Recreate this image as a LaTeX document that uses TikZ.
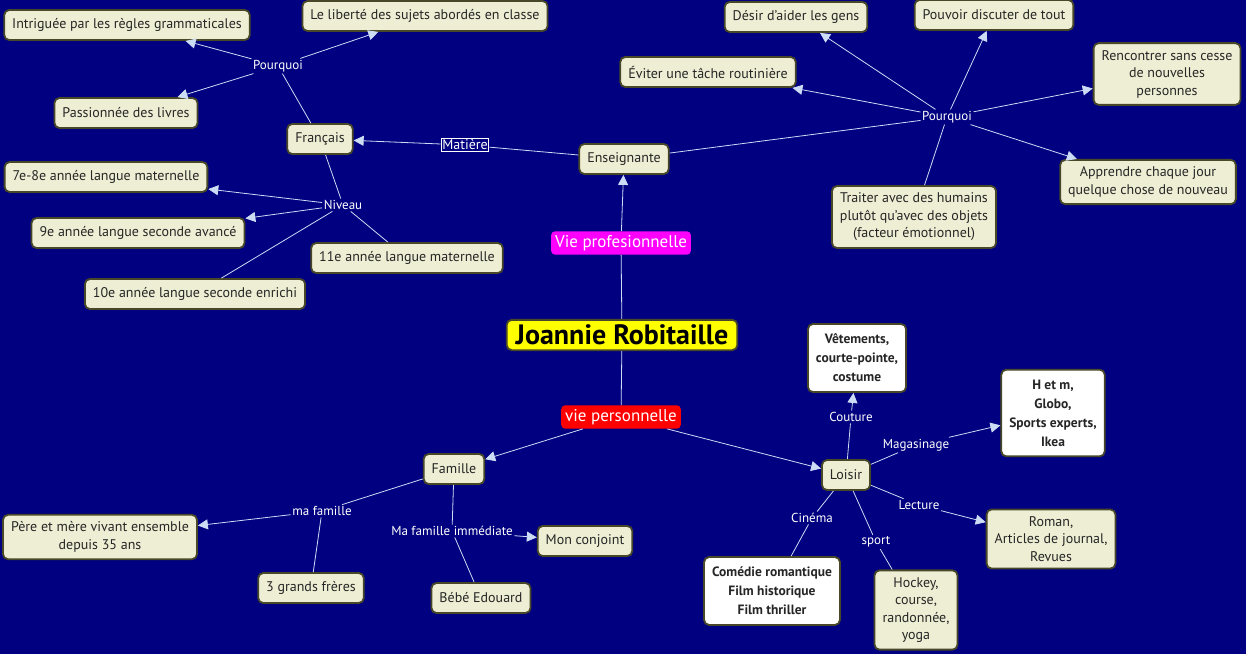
\documentclass[tikz,border=0pt]{standalone}
\usepackage{fontspec}
\setmainfont{PT Sans}
\usepackage{xcolor}
\usetikzlibrary{arrows.meta}

\definecolor{fond}{RGB}{0,0,128}
\definecolor{beige}{RGB}{238,238,212}
\definecolor{bord}{RGB}{72,72,40}
\definecolor{lien}{RGB}{205,220,245}
\definecolor{rose}{RGB}{255,0,255}
\definecolor{rouge}{RGB}{255,0,0}
\definecolor{jaune}{RGB}{255,255,0}

\tikzset{
	concept/.style={draw=bord, line width=1.8pt, fill=beige, rounded corners=5pt, text=black!85,
		font=\fontsize{14}{17.5}\selectfont, inner xsep=8pt, inner ysep=7pt, minimum height=30pt, align=center},
	conceptblanc/.style={concept, fill=white, inner ysep=10pt, font=\bfseries\fontsize{13.5}{19}\selectfont},
	branche/.style={text=white, rounded corners=4pt, inner sep=4pt, font=\fontsize{17}{19}\selectfont},
	phrase/.style={fill=fond, text=white, font=\fontsize{13}{15}\selectfont, inner sep=1.5pt},
	trait/.style={draw=lien, line width=0.8pt},
	fleche/.style={trait, -{Triangle[length=10pt,width=10pt]}},
}

\begin{document}
\begin{tikzpicture}[x=1pt, y=-1pt]
			
			% Fond bleu de la carte
			\fill[fond] (0,0) rectangle (1246,654);
			\useasboundingbox (0,0) rectangle (1246,654);
			
			% Concept central et les deux branches
			\node[draw=bord, line width=1.8pt, fill=jaune, rounded corners=5pt, inner xsep=9pt, inner ysep=5pt,
				font=\bfseries\fontsize{28}{30}\selectfont] (racine) at (622,335) {Joannie Robitaille};
			\node[branche, fill=rose] (viepro) at (621,243) {Vie profesionnelle};
			\node[branche, fill=rouge] (vieperso) at (621,417) {vie personnelle};
			
			% Vie professionnelle
			\node[concept] (enseignante) at (624,159) {Enseignante};
			\node[concept] (francais) at (320,139) {Français};
			\node[phrase, draw=white, line width=1.2pt, inner sep=1pt, font=\fontsize{14}{16}\selectfont] (matiere) at (465,145) {Matière};
			
			\node[phrase] (pourquoiA) at (278,66) {Pourquoi};
			\node[concept] (intriguee) at (127,25) {Intriguée par les règles grammaticales};
			\node[concept] (liberte) at (425,16) {Le liberté des sujets abordés en classe};
			\node[concept] (passionnee) at (126,113) {Passionnée des livres};
			
			\node[phrase] (niveau) at (343,205) {Niveau};
			\node[concept] (septieme) at (106,177) {7e-8e année langue maternelle};
			\node[concept] (neuvieme) at (138,233) {9e année langue seconde avancé};
			\node[concept] (onzieme) at (407,258) {11e année langue maternelle};
			\node[concept] (dixieme) at (195,294) {10e année langue seconde enrichi};
			
			\node[phrase] (pourquoiB) at (947,117) {Pourquoi};
			\node[concept] (eviter) at (708,72) {Éviter une tâche routinière};
			\node[concept] (desir) at (796,17) {Désir d'aider les gens};
			\node[concept] (pouvoir) at (994,15) {Pouvoir discuter de tout};
			\node[concept] (rencontrer) at (1167,74) {Rencontrer sans cesse\\de nouvelles\\personnes};
			\node[concept] (apprendre) at (1148,182) {Apprendre chaque jour\\quelque chose de nouveau};
			\node[concept] (traiter) at (914,217) {Traiter avec des humains\\plutôt qu'avec des objets\\(facteur émotionnel)};
			
			% Vie personnelle
			\node[concept] (famille) at (454,469) {Famille};
			\node[phrase] (mafamille) at (322,511) {ma famille};
			\node[concept] (pere) at (100,537) {Père et mère vivant ensemble\\depuis 35 ans};
			\node[concept] (freres) at (311,588) {3 grands frères};
			\node[phrase] (immediate) at (452,531) {Ma famille immédiate};
			\node[concept] (conjoint) at (585,541) {Mon conjoint};
			\node[concept] (bebe) at (481,598) {Bébé Edouard};
			
			\node[concept] (loisir) at (846,475) {Loisir};
			\node[phrase] (couture) at (851,417) {Couture};
			\node[conceptblanc] (vetements) at (857,358) {Vêtements,\\courte-pointe,\\costume};
			\node[phrase] (magasinage) at (916,445) {Magasinage};
			\node[conceptblanc] (hetm) at (1053,413) {H et m,\\Globo,\\Sports experts,\\Ikea};
			\node[phrase] (lecture) at (919,505) {Lecture};
			\node[concept] (roman) at (1051,539) {Roman,\\Articles de journal,\\Revues};
			\node[phrase] (sport) at (876,542) {sport};
			\node[concept] (hockey) at (916,610) {Hockey,\\course,\\randonnée,\\yoga};
			\node[phrase] (cinema) at (812,518) {Cinéma};
			\node[conceptblanc] (comedie) at (772,591) {Comédie romantique\\Film historique\\Film thriller};
			
			% Liens du concept central
			\draw[trait] (racine) -- (viepro);
			\draw[fleche] (viepro) -- (enseignante);
			\draw[trait] (racine) -- (vieperso);
			\draw[fleche] (vieperso) -- (famille);
			\draw[fleche] (vieperso) -- (loisir);
			
			% Liens de la branche Enseignante
			\draw[trait] (enseignante) -- (matiere);
			\draw[fleche] (matiere) -- (francais);
			\draw[trait] (francais) -- (pourquoiA);
			\draw[fleche] (pourquoiA) -- (intriguee);
			\draw[fleche] (pourquoiA) -- (liberte);
			\draw[fleche] (pourquoiA) -- (passionnee);
			\draw[trait] (francais) -- (niveau);
			\draw[fleche] (niveau) -- (septieme);
			\draw[fleche] (niveau) -- (neuvieme);
			\draw[trait] (niveau) -- (onzieme);
			\draw[trait] (niveau) -- (dixieme);
			\draw[trait] (enseignante) -- (pourquoiB);
			\draw[fleche] (pourquoiB) -- (eviter);
			\draw[fleche] (pourquoiB) -- (desir);
			\draw[fleche] (pourquoiB) -- (pouvoir);
			\draw[fleche] (pourquoiB) -- (rencontrer);
			\draw[fleche] (pourquoiB) -- (apprendre);
			\draw[trait] (pourquoiB) -- (traiter);
			
			% Liens de Famille
			\draw[trait] (famille) -- (mafamille);
			\draw[fleche] (mafamille) -- (pere);
			\draw[trait] (mafamille) -- (freres);
			\draw[trait] (famille) -- (immediate);
			\draw[fleche] (immediate) -- (conjoint);
			\draw[trait] (immediate) -- (bebe);
			
			% Liens de Loisir
			\draw[trait] (loisir) -- (couture);
			\draw[fleche] (couture) -- (vetements);
			\draw[trait] (loisir) -- (magasinage);
			\draw[fleche] (magasinage) -- (hetm);
			\draw[trait] (loisir) -- (lecture);
			\draw[fleche] (lecture) -- (roman);
			\draw[trait] (loisir) -- (sport);
			\draw[trait] (sport) -- (hockey);
			\draw[trait] (loisir) -- (cinema);
			\draw[trait] (cinema) -- (comedie);
			
		\end{tikzpicture}
\end{document}
